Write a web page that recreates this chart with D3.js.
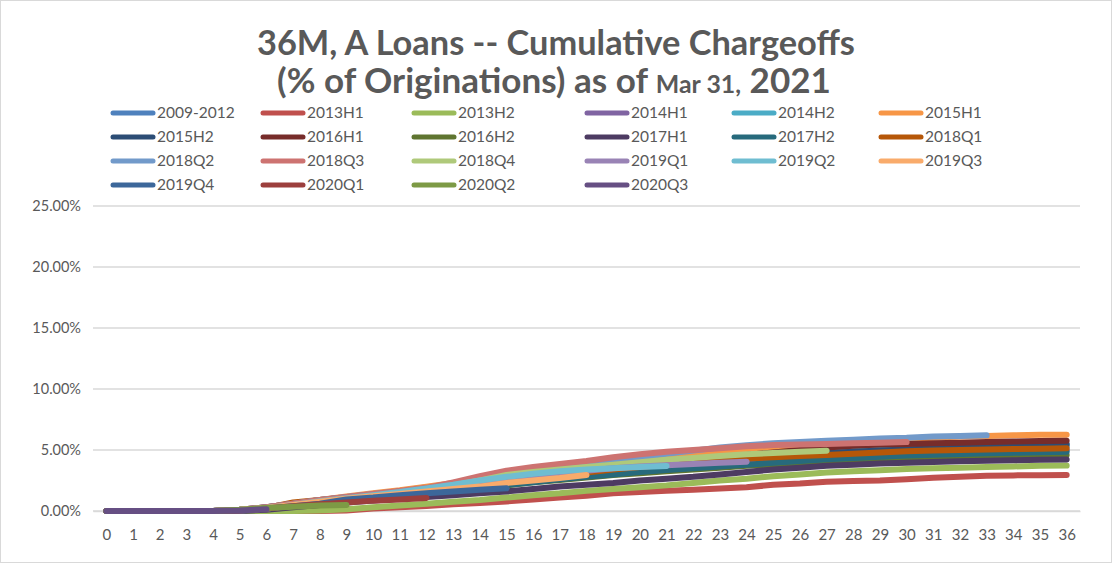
<!DOCTYPE html>
<html>
<head>
<meta charset="utf-8">
<script src="https://cdn.jsdelivr.net/npm/d3@7"></script>
<style>
  body { margin: 0; background: #fff; }
  svg { display: block; font-family: Lato, "Open Sans", sans-serif; }
</style>
</head>
<body>
<svg id="chart"></svg>
<script>
// months on book
const months = d3.range(0, 37);

const seriesNames = ["2009-2012", "2013H1", "2013H2", "2014H1", "2014H2", "2015H1",
  "2015H2", "2016H1", "2016H2", "2017H1", "2017H2", "2018Q1",
  "2018Q2", "2018Q3", "2018Q4", "2019Q1", "2019Q2", "2019Q3",
  "2019Q4", "2020Q1", "2020Q2", "2020Q3"];

const seriesColors = ["#4F81BD", "#C0504D", "#9BBB59", "#8064A2", "#4BACC6", "#F79646",
  "#2C4D75", "#772C2A", "#5F7530", "#4D3B62", "#276A7C", "#B65708",
  "#729ACA", "#CD7371", "#AFC97A", "#9983B5", "#6FBDD1", "#F9AB6B",
  "#3C679A", "#9C3F3D", "#7D9A45", "#664F83"];

// cumulative chargeoffs, % of originations, month 0..n
const v2009_2012 = [0,0,0,0,0,0.1,0.3,0.6,0.9,1.1,1.4,1.6,1.9,2.2,2.5,2.7,3.0,3.2,3.4,3.6,3.8,4.0,4.2,4.3,4.5,4.6,4.7,4.8,4.9,5.0,5.1,5.1,5.2,5.2,5.3,5.3,5.3];
const v2013H1 = [0,0,0,0,0,0,0,0,0,0.05,0.2,0.3,0.4,0.55,0.65,0.78,0.95,1.1,1.25,1.45,1.55,1.65,1.75,1.85,1.95,2.15,2.25,2.4,2.45,2.5,2.6,2.72,2.8,2.88,2.92,2.94,2.95];
const v2013H2 = [0,0,0,0,0,0,0,0,0.05,0.15,0.3,0.45,0.6,0.75,0.9,1.1,1.3,1.45,1.65,1.8,1.95,2.1,2.3,2.5,2.65,2.85,3.0,3.15,3.25,3.35,3.45,3.5,3.55,3.6,3.65,3.7,3.72];
const v2014H1 = [0,0,0,0,0,0.05,0.2,0.5,0.8,1.0,1.25,1.5,1.75,2.0,2.25,2.5,2.75,2.95,3.15,3.35,3.55,3.7,3.85,4.0,4.15,4.3,4.4,4.5,4.6,4.7,4.8,4.85,4.9,4.95,5.0,5.0,5.0];
const v2014H2 = [0,0,0,0,0,0.05,0.2,0.5,0.85,1.1,1.4,1.65,1.95,2.2,2.45,2.7,2.95,3.2,3.4,3.6,3.8,3.95,4.1,4.3,4.45,4.6,4.7,4.8,4.9,5.0,5.1,5.2,5.25,5.3,5.35,5.4,5.4];
const v2015H1 = [0,0,0,0,0,0.1,0.3,0.6,0.9,1.2,1.45,1.7,2.0,2.3,2.6,2.9,3.2,3.45,3.7,3.95,4.2,4.4,4.6,4.8,5.0,5.2,5.35,5.5,5.65,5.8,5.9,6.0,6.1,6.15,6.2,6.25,6.25];
const v2015H2 = [0,0,0,0,0,0.1,0.25,0.5,0.8,1.05,1.3,1.55,1.8,2.05,2.3,2.55,2.8,3.0,3.25,3.45,3.65,3.85,4.0,4.15,4.3,4.45,4.6,4.75,4.85,4.95,5.05,5.15,5.25,5.35,5.4,5.45,5.5];
const v2016H1 = [0,0,0,0,0,0.1,0.3,0.55,0.85,1.1,1.35,1.6,1.85,2.1,2.35,2.6,2.85,3.1,3.35,3.55,3.75,3.95,4.15,4.35,4.6,4.8,5.0,5.2,5.35,5.45,5.5,5.55,5.6,5.65,5.7,5.73,5.76];
const v2016H2 = [0,0,0,0,0,0.05,0.2,0.45,0.7,0.9,1.1,1.3,1.5,1.7,1.9,2.1,2.35,2.55,2.75,2.95,3.1,3.25,3.4,3.55,3.7,3.8,3.9,4.0,4.1,4.2,4.25,4.3,4.4,4.45,4.5,4.55,4.59];
const v2017H1 = [0,0,0,0,0,0,0.1,0.3,0.5,0.7,0.85,1.0,1.15,1.3,1.45,1.6,1.8,2.0,2.15,2.3,2.5,2.65,2.8,3.0,3.2,3.4,3.55,3.7,3.8,3.9,3.96,4.02,4.08,4.12,4.16,4.2,4.23];
const v2017H2 = [0,0,0,0,0,0.05,0.2,0.45,0.7,0.95,1.15,1.35,1.55,1.75,1.95,2.15,2.35,2.6,2.8,3.0,3.2,3.35,3.5,3.65,3.8,3.95,4.1,4.25,4.35,4.45,4.55,4.62,4.68,4.74,4.78,4.82,4.86];
const v2018Q1 = [0,0,0,0,0,0.1,0.25,0.7,0.9,1.1,1.3,1.5,1.7,1.9,2.15,2.4,2.65,2.9,3.15,3.4,3.6,3.8,4.0,4.15,4.3,4.4,4.5,4.6,4.7,4.8,4.9,4.95,5.0,5.05,5.08,5.11,5.14];
const v2018Q2 = [0,0,0,0,0,0.1,0.3,0.6,0.9,1.15,1.4,1.6,1.85,2.2,2.55,2.9,3.2,3.5,3.8,4.1,4.4,4.7,4.95,5.2,5.4,5.55,5.65,5.75,5.85,5.95,6.0,6.1,6.15,6.2];
const v2018Q3 = [0,0,0,0,0,0.1,0.3,0.6,0.9,1.15,1.4,1.65,1.9,2.35,2.85,3.3,3.6,3.85,4.1,4.4,4.65,4.85,5.0,5.15,5.3,5.4,5.45,5.5,5.55,5.6,5.65];
const v2018Q4 = [0,0,0,0,0,0.05,0.2,0.45,0.7,0.95,1.2,1.45,1.75,2.1,2.5,2.95,3.2,3.4,3.6,3.8,4.0,4.2,4.35,4.5,4.65,4.75,4.85,4.94];
const v2019Q1 = [0,0,0,0,0,0.05,0.2,0.45,0.7,0.95,1.2,1.45,1.7,1.95,2.25,2.55,2.85,3.1,3.3,3.5,3.65,3.75,3.85,3.95,4.04];
const v2019Q2 = [0,0,0,0,0,0.1,0.25,0.5,0.8,1.05,1.3,1.55,1.85,2.15,2.5,2.8,3.05,3.25,3.4,3.5,3.6,3.69];
const v2019Q3 = [0,0,0,0,0,0.1,0.25,0.5,0.75,1.0,1.2,1.4,1.6,1.8,2.0,2.3,2.5,2.7,2.95];
const v2019Q4 = [0,0,0,0,0,0.05,0.2,0.4,0.6,0.95,1.1,1.3,1.45,1.6,1.75,1.86];
const v2020Q1 = [0,0,0,0,0,0.05,0.2,0.4,0.55,0.7,0.85,0.95,1.07];
const v2020Q2 = [0,0,0,0,0,0.1,0.25,0.35,0.45,0.5];
const v2020Q3 = [0,0,0,0,0,0.05,0.15];

const seriesValues = [v2009_2012, v2013H1, v2013H2, v2014H1, v2014H2, v2015H1,
  v2015H2, v2016H1, v2016H2, v2017H1, v2017H2, v2018Q1,
  v2018Q2, v2018Q3, v2018Q4, v2019Q1, v2019Q2, v2019Q3,
  v2019Q4, v2020Q1, v2020Q2, v2020Q3];

const yTicks = [0, 5, 10, 15, 20, 25];

const width = 1112, height = 563;
const TEXT_COLOR = "#595959";
const GRID_COLOR = "#D9D9D9";
// legend column x (line start), rows step
const LEGEND_COLS = [113, 263, 414, 587, 734, 881];
const LEGEND_TOP = 113, LEGEND_STEP = 24;

const svg = d3.select("#chart").attr("width", width).attr("height", height);

svg.append("rect")
  .attr("x", 0.5).attr("y", 0.5)
  .attr("width", width - 1).attr("height", height - 1)
  .attr("fill", "#fff").attr("stroke", GRID_COLOR);

const x = d3.scalePoint().domain(months).range([93, 1080]).padding(0.5);
const y = d3.scaleLinear().domain([0, 25]).range([511, 206]);

// title
const title = svg.append("g").attr("fill", TEXT_COLOR).attr("font-weight", "bold").attr("text-anchor", "middle");
const t1 = title.append("text").attr("x", 556).attr("y", 55).attr("font-size", 31)
  .text("36M, A Loans -- Cumulative Chargeoffs");
const t2 = title.append("text").attr("x", 554).attr("y", 93).attr("font-size", 31);
t2.append("tspan").text("(% of Originations) as of ");
t2.append("tspan").attr("font-size", 22).text("Mar 31,");
t2.append("tspan").text(" 2021");

function fitWidth(sel, target) {
  const len = sel.node().getComputedTextLength();
  const k = target / len;
  sel.attr("font-size", +sel.attr("font-size") * k);
  sel.selectAll("tspan").each(function () {
    const s = d3.select(this);
    if (s.attr("font-size")) s.attr("font-size", +s.attr("font-size") * k);
  });
}
fitWidth(t1, 598);
fitWidth(t2, 554);

// gridlines
svg.append("g").selectAll("line").data(yTicks).join("line")
  .attr("x1", 93).attr("x2", 1080)
  .attr("y1", d => y(d)).attr("y2", d => y(d))
  .attr("stroke", GRID_COLOR).attr("stroke-width", 1.3);

// y axis labels
const yAxis = svg.append("g").attr("transform", "translate(81,0)")
  .call(d3.axisLeft(y).tickValues(yTicks).tickSize(0).tickPadding(0).tickFormat(d => d.toFixed(2) + "%"));
yAxis.select(".domain").remove();
yAxis.selectAll("text").attr("fill", TEXT_COLOR).attr("font-size", 14.5).attr("font-family", "Lato, sans-serif");

// x axis labels
const xAxis = svg.append("g").attr("transform", "translate(0,511)")
  .call(d3.axisBottom(x).tickSize(0).tickPadding(18));
xAxis.select(".domain").attr("stroke", GRID_COLOR).attr("stroke-width", 1.3);
xAxis.selectAll("text").attr("fill", TEXT_COLOR).attr("font-size", 15).attr("font-family", "Lato, sans-serif");

// lines
const line = d3.line().x((d, i) => x(i)).y(d => y(d));
svg.append("g").selectAll("path")
  .data(seriesValues).join("path")
  .attr("d", line)
  .attr("fill", "none")
  .attr("stroke", (d, i) => seriesColors[i])
  .attr("stroke-width", 6)
  .attr("stroke-linecap", "round")
  .attr("stroke-linejoin", "round");

// legend
const item = svg.append("g").selectAll("g").data(seriesNames).join("g")
  .attr("transform", (d, i) => `translate(${LEGEND_COLS[i % 6]},${LEGEND_TOP + Math.floor(i / 6) * LEGEND_STEP})`);
item.append("line")
  .attr("x1", 0).attr("x2", 40)
  .attr("stroke", (d, i) => seriesColors[i])
  .attr("stroke-width", 5).attr("stroke-linecap", "round");
item.append("text")
  .attr("x", 44).attr("dy", "0.35em")
  .attr("fill", TEXT_COLOR).attr("font-size", 15.5)
  .text(d => d);
</script>
</body>
</html>
